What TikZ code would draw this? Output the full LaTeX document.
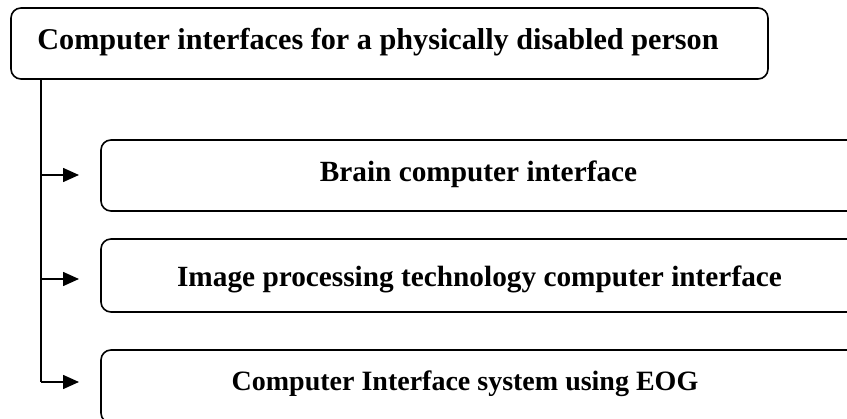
\documentclass[tikz,border=0pt]{standalone}
\usepackage{fontspec}
\setmainfont{Liberation Serif}
\usetikzlibrary{arrows.meta}
\begin{document}
\begin{tikzpicture}[x=1pt,y=-1pt,
  box/.style={draw,line width=1.6pt,rounded corners=10pt},
  lbl/.style={font=\fontsize{#1}{34}\selectfont\bfseries,inner sep=0pt,anchor=base},
  lbl/.default=29.3,
  link/.style={line width=1.6pt},
  arr/.style={link,-{Triangle[length=16pt,width=14pt]}}]
\useasboundingbox (0,0) rectangle (847,419);
\clip (0,0) rectangle (847,419);
% top box
\draw[box] (11,8) rectangle (768,79);
\node[lbl=30.2] (top) at (378,50) {Computer interfaces for a physically disabled person};
\coordinate (trunk) at (41,79);
% child boxes (they run past the right and bottom edges)
\draw[box] (101,140) rectangle (880,211);
\draw[box] (101,239) rectangle (880,312);
\draw[box] (101,350) rectangle (880,423);
\node[lbl] (bci) at (478.5,182) {Brain computer interface};
\node[lbl] (ipt) at (479.5,287) {Image processing technology computer interface};
\node[lbl=28] (eog) at (465,391) {Computer Interface system using EOG};
\coordinate (j1) at (41,175);
\coordinate (j2) at (41,279);
\coordinate (j3) at (41,382);
\coordinate (a1) at (79,175);
\coordinate (a2) at (79,279);
\coordinate (a3) at (79,382);
\draw[link] (trunk) -- (j3);
\draw[arr] (j1) -- (a1);
\draw[arr] (j2) -- (a2);
\draw[arr] (j3) -- (a3);
\end{tikzpicture}
\end{document}
